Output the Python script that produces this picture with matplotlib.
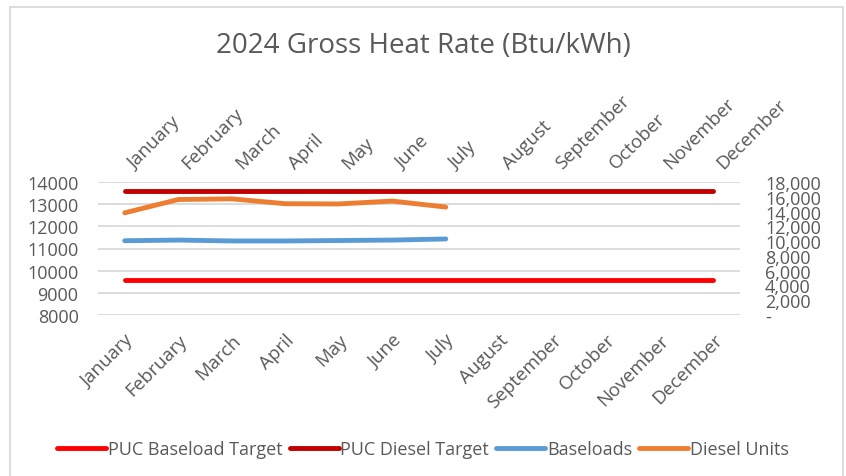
import matplotlib
matplotlib.use("Agg")
import matplotlib.pyplot as plt
from matplotlib.patches import Rectangle

months = ["January", "February", "March", "April", "May", "June", "July",
          "August", "September", "October", "November", "December"]
puc_baseload_target = [9600] * 12
puc_diesel_target = [13600] * 12
baseloads = [11350, 11380, 11340, 11340, 11360, 11380, 11430]
diesel_units = [12610, 13210, 13240, 13020, 13010, 13140, 12870]

left_ticks = [8000, 9000, 10000, 11000, 12000, 13000, 14000]
right_ticks = list(range(0, 18001, 2000))

plt.rcParams['font.family'] = ['Open Sans', 'DejaVu Sans']
TXT = '#595959'
GRID = '#d9d9d9'

fig = plt.figure(figsize=(8.46, 4.77), dpi=100)
fig.patches.append(Rectangle((10 / 846, -0.1), (843 - 10) / 846, 1.1 - 8 / 477,
                             transform=fig.transFigure, fill=False,
                             edgecolor='#d9d9d9', linewidth=1.3))

ax = fig.add_axes([98 / 846, 1 - 316 / 477, (740 - 98) / 846, (316 - 183) / 477])
x = list(range(12))
lw = 3.5
l1, = ax.plot(x, puc_baseload_target, color='#ff0000', lw=lw, solid_capstyle='round', label='PUC Baseload Target', zorder=3)
l2, = ax.plot(x, puc_diesel_target, color='#c00000', lw=lw, solid_capstyle='round', label='PUC Diesel Target', zorder=3)
l3, = ax.plot(x[:len(baseloads)], baseloads, color='#5b9bd5', lw=lw, solid_capstyle='round', label='Baseloads', zorder=3)
l4, = ax.plot(x[:len(diesel_units)], diesel_units, color='#ed7d31', lw=lw, solid_capstyle='round', label='Diesel Units', zorder=3)

ax.set_xlim(-0.5, 11.5)
ax.set_ylim(8000, 14000)
ax.set_yticks(left_ticks)
ax.set_yticklabels([str(v) for v in left_ticks])
ax.grid(axis='y', color=GRID, lw=1.3)
ax.set_axisbelow(True)
for s in ax.spines.values():
    s.set_visible(False)
ax.tick_params(axis='y', length=0, pad=14, labelsize=13, labelcolor=TXT)
ax.set_xticks(x)
ax.set_xticklabels(months, rotation=45, ha='right', rotation_mode='anchor')
ax.tick_params(axis='x', length=0, pad=11, labelsize=13.5, labelcolor=TXT)

top = ax.secondary_xaxis('top')
top.set_xticks(x)
top.set_xticklabels(months, rotation=45, ha='left', va='top', rotation_mode='anchor')
top.tick_params(axis='x', length=0, pad=16.5, labelsize=13.5, labelcolor=TXT)
for s in top.spines.values():
    s.set_visible(False)

ax2 = ax.twinx()
ax2.set_ylim(0, 18000)
ax2.set_yticks(right_ticks)
ax2.set_yticklabels(['-' if v == 0 else f"{v:,}" for v in right_ticks])
ax2.tick_params(axis='y', length=0, pad=18, labelsize=13, labelcolor=TXT)
for s in ax2.spines.values():
    s.set_visible(False)

fig.text(0.5, 1 - 46 / 477, '2024 Gross Heat Rate (Btu/kWh)', ha='center', va='center',
         fontsize=20, color=TXT)

fig.legend(handles=[l1, l2, l3, l4], loc='center', bbox_to_anchor=(0.5, 1 - 450 / 477),
           ncol=4, frameon=False, fontsize=13, labelcolor=TXT, handlelength=2.7,
           handletextpad=0.1, columnspacing=0.4)

fig.savefig('out.png', dpi=100)
